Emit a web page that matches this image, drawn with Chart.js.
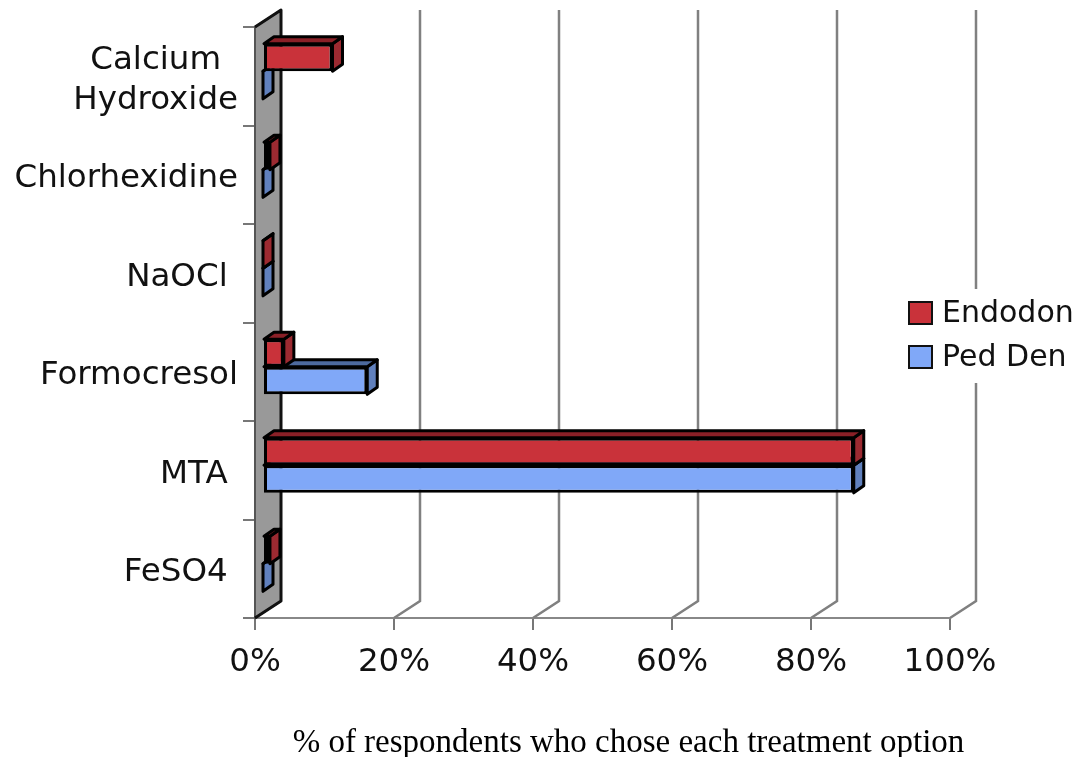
<!DOCTYPE html>
<html>
<head>
<meta charset="utf-8">
<script src="https://cdn.jsdelivr.net/npm/chart.js@4.4.1/dist/chart.umd.min.js"></script>
<style>
  html, body { margin: 0; padding: 0; background: #fff; }
  canvas { display: block; }
</style>
</head>
<body>
<canvas id="chart" width="1081" height="757"></canvas>
<script>
// Treatment options (top to bottom) and the share of each group choosing them
const categories = [['Calcium', 'Hydroxide'], 'Chlorhexidine', 'NaOCl ', 'Formocresol', 'MTA ', 'FeSO4 '];
const endodon = [10, 1, 0, 3, 85, 1];
const pedDen = [0, 0, 0, 15, 85, 0];
const seriesNames = ['Endodon', 'Ped Den'];
const xTickValues = [0, 20, 40, 60, 80, 100];
const axisTitle = '% of respondents who chose each treatment option';

// 3D look: depth of the side wall, and where the bars sit inside that depth
const WALL_DEPTH = { x: 26, y: -17 };
const BAR_SHIFT = { x: 8, y: -5 };
const BAR_DEPTH = { x: 10, y: -7 };

const LABEL_FONT = '32.5px "DejaVu Sans"';

function poly(ctx, pts, fill, stroke, lw) {
  ctx.beginPath();
  ctx.moveTo(pts[0][0], pts[0][1]);
  for (let i = 1; i < pts.length; i++) ctx.lineTo(pts[i][0], pts[i][1]);
  ctx.closePath();
  if (fill) { ctx.fillStyle = fill; ctx.fill(); }
  if (stroke) { ctx.strokeStyle = stroke; ctx.lineWidth = lw; ctx.lineJoin = 'round'; ctx.stroke(); }
}

const threeD = {
  id: 'threeD',
  beforeDatasetsDraw(chart) {
    const { ctx, chartArea: a, scales: { x } } = chart;
    ctx.save();
    // back-wall gridlines running from the floor edge into depth and up
    ctx.strokeStyle = '#808080';
    ctx.lineWidth = 2.5;
    xTickValues.slice(1).forEach(v => {
      const px = x.getPixelForValue(v);
      ctx.beginPath();
      ctx.moveTo(px, a.bottom);
      ctx.lineTo(px + WALL_DEPTH.x, a.bottom + WALL_DEPTH.y);
      ctx.lineTo(px + WALL_DEPTH.x, a.top + WALL_DEPTH.y);
      ctx.stroke();
    });
    // side wall at 0%
    const L = x.getPixelForValue(0);
    poly(ctx, [[L, a.top], [L + WALL_DEPTH.x, a.top + WALL_DEPTH.y],
               [L + WALL_DEPTH.x, a.bottom + WALL_DEPTH.y], [L, a.bottom]], '#999999', '#555', 2);
    ctx.strokeStyle = '#111';
    ctx.lineWidth = 3;
    ctx.beginPath();
    ctx.moveTo(L, a.top);
    ctx.lineTo(L + WALL_DEPTH.x, a.top + WALL_DEPTH.y);
    ctx.lineTo(L + WALL_DEPTH.x, a.bottom + WALL_DEPTH.y);
    ctx.lineTo(L, a.bottom);
    ctx.stroke();
    ctx.restore();
  },
  beforeDatasetDraw(chart, args) {
    const ctx = chart.ctx;
    const ds = chart.data.datasets[args.index];
    ctx.save();
    ctx.translate(BAR_SHIFT.x, BAR_SHIFT.y);
    args.meta.data.forEach(bar => {
      const { x, y, base, height } = bar.getProps(['x', 'y', 'base', 'height'], true);
      const l = Math.min(x, base), r = Math.max(x, base);
      const t = y - height / 2, b = y + height / 2;
      const dx = BAR_DEPTH.x, dy = BAR_DEPTH.y;
      poly(ctx, [[r, t], [r + dx, t + dy], [r + dx, b + dy], [r, b]], ds.sideColor, '#000', 3);
      poly(ctx, [[l, t], [r, t], [r + dx, t + dy], [l + dx, t + dy]], ds.topColor, '#000', 3);
    });
  },
  afterDatasetDraw(chart) {
    chart.ctx.restore();
  },
  afterDraw(chart) {
    const { ctx, chartArea: a, scales: { x, y } } = chart;
    ctx.save();
    // category labels
    ctx.font = LABEL_FONT;
    ctx.fillStyle = '#111';
    ctx.textBaseline = 'middle';
    const rightEdge = 238;
    chart.data.labels.forEach((lab, i) => {
      const cy = y.getPixelForValue(i) + 4;
      const lines = Array.isArray(lab) ? lab : [lab];
      const lh = 40;
      const w = Math.max(...lines.map(s => ctx.measureText(s).width));
      lines.forEach((s, k) => {
        const ly = cy + (k - (lines.length - 1) / 2) * lh;
        if (lines.length > 1) {
          ctx.textAlign = 'center';
          ctx.fillText(s, rightEdge - w / 2, ly);
        } else {
          ctx.textAlign = 'right';
          ctx.fillText(s, rightEdge, ly);
        }
      });
    });
    // legend
    ctx.fillStyle = '#fff';
    ctx.fillRect(898, 289, 183, 94);
    ctx.font = '30px "DejaVu Sans"';
    ctx.textAlign = 'left';
    chart.data.datasets.forEach((ds, i) => {
      const by = 302 + i * 44;
      ctx.fillStyle = ds.backgroundColor;
      ctx.fillRect(909, by, 23, 22);
      ctx.strokeStyle = '#111';
      ctx.lineWidth = 2;
      ctx.strokeRect(909, by, 23, 22);
      ctx.fillStyle = '#111';
      ctx.fillText(ds.label, 942, by + 12);
    });
    // axis title centred under the back wall
    ctx.font = '33px "Liberation Serif"';
    ctx.textAlign = 'center';
    ctx.fillStyle = '#000';
    const cx = (x.getPixelForValue(0) + x.getPixelForValue(100)) / 2 + WALL_DEPTH.x;
    ctx.fillText(axisTitle, cx, 743);
    ctx.restore();
  }
};

new Chart(document.getElementById('chart'), {
  type: 'bar',
  data: {
    labels: categories,
    datasets: [
      { label: seriesNames[0], data: endodon, backgroundColor: '#c9323a', topColor: '#8a2027', sideColor: '#9c2a31',
        borderColor: '#000', borderWidth: 3, borderSkipped: false, clip: false },
      { label: seriesNames[1], data: pedDen, backgroundColor: '#80a8f8', topColor: '#4d6a9e', sideColor: '#6080bd',
        borderColor: '#000', borderWidth: 3, borderSkipped: false, clip: false }
    ]
  },
  options: {
    responsive: false,
    animation: false,
    indexAxis: 'y',
    layout: { padding: { left: 0, right: 131, top: 27, bottom: 0 } },
    datasets: { bar: { categoryPercentage: 0.56, barPercentage: 1.0 } },
    plugins: { legend: { display: false }, tooltip: { enabled: false } },
    scales: {
      x: {
        min: 0, max: 100,
        afterFit(s) { s.height = 139; },
        ticks: {
          stepSize: 20, callback: v => v + '%', maxRotation: 0, autoSkip: false,
          font: { family: 'DejaVu Sans', size: 32.5 }, color: '#111', padding: 13
        },
        grid: { drawOnChartArea: false, drawTicks: true, tickLength: 12, color: '#777', lineWidth: 2 },
        border: { display: true, color: '#888', width: 2 }
      },
      y: {
        afterFit(s) { s.width = 255; },
        ticks: { display: false },
        grid: { drawOnChartArea: false, drawTicks: true, tickLength: 12, color: '#777', lineWidth: 2, offset: true },
        border: { display: true, color: '#777', width: 2 }
      }
    }
  },
  plugins: [threeD]
});
</script>
</body>
</html>
